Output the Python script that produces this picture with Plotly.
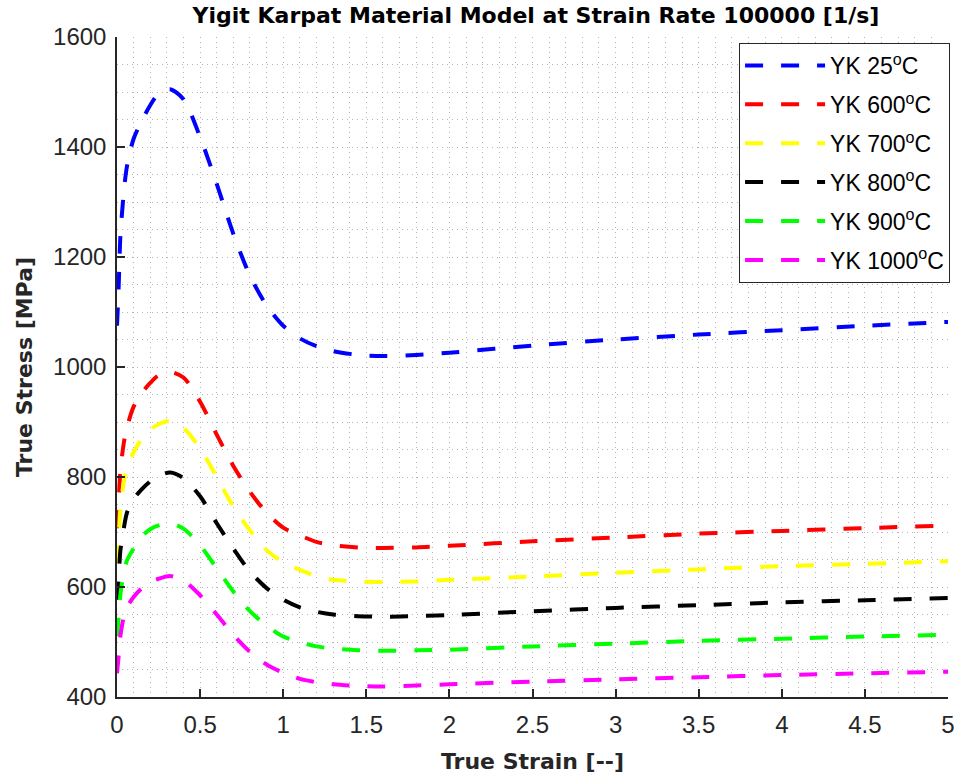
import plotly.graph_objects as go

# True strain sample points shared by all curves
strain = [0, 0.01, 0.02, 0.04, 0.06, 0.1, 0.15, 0.2, 0.25, 0.32, 0.4, 0.5, 0.6, 0.7, 0.8,
          0.9, 1.0, 1.1, 1.2, 1.3, 1.45, 1.6, 1.8, 2.0, 2.5, 3.0, 3.5, 4.0, 4.5, 5.0]

# True stress [MPa] for each temperature
stress_25 = [1075, 1145, 1235, 1315, 1365, 1415, 1448, 1476, 1497, 1505, 1487, 1418, 1333, 1242, 1166,
             1112, 1075, 1052, 1038, 1029, 1022, 1020, 1022, 1026, 1039, 1050, 1059, 1067, 1075, 1082]
stress_600 = [707, 755, 810, 860, 890, 928, 953, 971, 985, 991, 981, 937, 877, 820, 773,
              735, 708, 694, 682, 676, 672, 671, 672, 675, 683, 690, 697, 702, 707, 712]
stress_700 = [643, 690, 740, 790, 815, 845, 870, 886, 896, 902, 889, 852, 800, 746, 703,
              667, 645, 631, 620, 613, 610, 609, 610, 613, 619, 626, 632, 638, 642, 647]
stress_800 = [577, 615, 665, 705, 735, 760, 778, 792, 802, 808, 798, 765, 716, 670, 628,
              598, 577, 563, 555, 550, 547, 546, 547, 549, 556, 562, 567, 572, 576, 580]
stress_900 = [511, 545, 585, 625, 648, 670, 692, 705, 712, 716, 706, 676, 634, 592, 556,
              530, 510, 500, 492, 488, 485, 484, 485, 486, 492, 497, 502, 506, 510, 513]
stress_1000 = [443, 475, 510, 545, 563, 582, 598, 609, 615, 620, 612, 585, 550, 513, 482,
               459, 444, 433, 427, 423, 420, 419, 421, 423, 428, 432, 436, 440, 443, 446]

series_names = ["YK 25<sup>o</sup>C", "YK 600<sup>o</sup>C", "YK 700<sup>o</sup>C",
                "YK 800<sup>o</sup>C", "YK 900<sup>o</sup>C", "YK 1000<sup>o</sup>C"]
series_values = [stress_25, stress_600, stress_700, stress_800, stress_900, stress_1000]
series_colors = ["#0000FF", "#FF0000", "#FFFF00", "#000000", "#00FF00", "#FF00FF"]

x_ticks = [0, 0.5, 1, 1.5, 2, 2.5, 3, 3.5, 4, 4.5, 5]
x_tick_labels = ["0", "0.5", "1", "1.5", "2", "2.5", "3", "3.5", "4", "4.5", "5"]
y_ticks = [400, 600, 800, 1000, 1200, 1400, 1600]

fig = go.Figure()
for i, (name, vals, col) in enumerate(zip(series_names, series_values, series_colors)):
    fig.add_trace(go.Scatter(
        x=strain, y=vals, name=name, mode="lines", legendgroup=f"g{i}",
        line=dict(color=col, width=4, dash="18px,18px", shape="spline", smoothing=0.8),
    ))

axis_col = "#262626"
grid_col = "#b4b4b4"
tick_font = dict(family="Liberation Sans, Arial, sans-serif", size=24, color=axis_col)
bold_font = dict(family="DejaVu Sans, sans-serif", size=22, color=axis_col, weight="bold")

fig.update_layout(
    width=963, height=783,
    margin=dict(l=117, r=8, t=37, b=86),
    paper_bgcolor="white", plot_bgcolor="white",
    title=dict(text="<b>Yigit Karpat Material Model at Strain Rate 100000 [1/s]</b>",
               x=(117 + 955) / 2 / 963, xanchor="center",
               yref="container", y=1 - 8 / 783, yanchor="top",
               font=dict(family="DejaVu Sans, sans-serif", size=22, color="#000000")),
    legend=dict(
        x=1.0025, y=0.991, xanchor="right", yanchor="top",
        bgcolor="white", bordercolor=axis_col, borderwidth=1,
        font=dict(family="Liberation Sans, Arial, sans-serif", size=23, color="#000000"),
        itemwidth=80, tracegroupgap=6, traceorder="grouped",
    ),
    showlegend=True,
)

fig.update_xaxes(
    range=[0, 5], tickvals=x_ticks, ticktext=x_tick_labels,
    showline=True, linecolor=axis_col, linewidth=1.5, mirror=False,
    ticks="inside", ticklen=8, tickwidth=1.5, tickcolor=axis_col,
    tickfont=tick_font, ticklabelstandoff=5,
    showgrid=True, gridcolor=grid_col, gridwidth=1, griddash="1px,4px",
    minor=dict(dtick=0.1, showgrid=True, gridcolor=grid_col, gridwidth=1, griddash="1px,4px"),
    zeroline=False,
    title=dict(text="<b>True Strain [--]</b>", font=bold_font, standoff=17),
)
fig.update_yaxes(
    range=[400, 1600], tickvals=y_ticks,
    showline=True, linecolor=axis_col, linewidth=1.5, mirror=False,
    ticks="inside", ticklen=8, tickwidth=1.5, tickcolor=axis_col,
    tickfont=tick_font, ticklabelstandoff=4,
    showgrid=True, gridcolor=grid_col, gridwidth=1, griddash="1px,4px",
    minor=dict(dtick=50, showgrid=True, gridcolor=grid_col, gridwidth=1, griddash="1px,4px"),
    zeroline=False,
    title=dict(text="<b>True Stress [MPa]</b>", font=bold_font, standoff=14),
)

fig.write_html("out.html")
